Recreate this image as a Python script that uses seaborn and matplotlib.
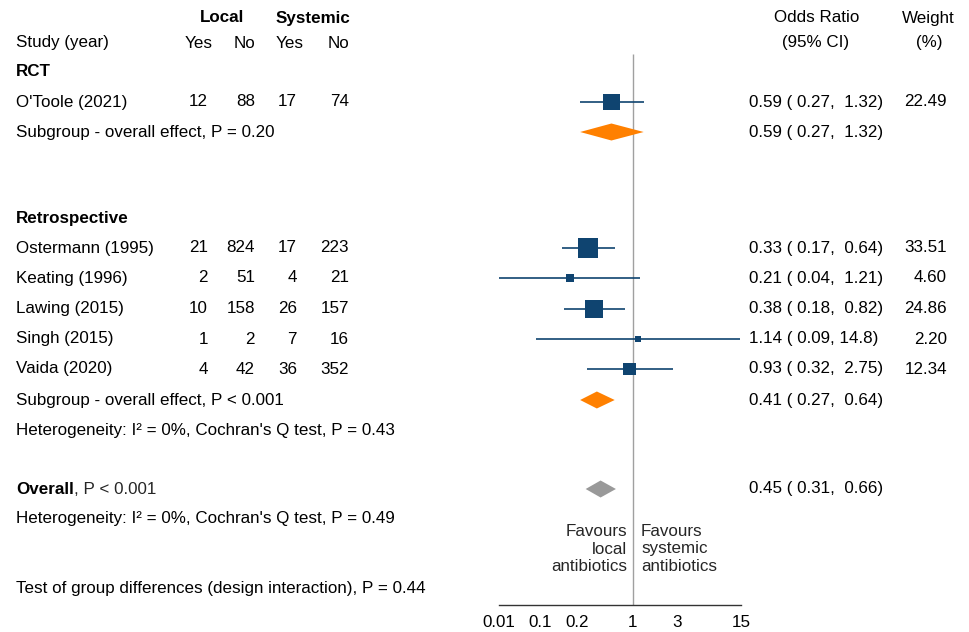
import matplotlib
matplotlib.use("Agg")
import matplotlib.pyplot as plt
import seaborn as sns
import pandas as pd

# ---------------- data ----------------
studies = ["O'Toole (2021)", "Ostermann (1995)", "Keating (1996)",
           "Lawing (2015)", "Singh (2015)", "Vaida (2020)"]
design = ["RCT", "Retrospective", "Retrospective", "Retrospective",
          "Retrospective", "Retrospective"]
local_yes = [12, 21, 2, 10, 1, 4]
local_no = [88, 824, 51, 158, 2, 42]
sys_yes = [17, 17, 4, 26, 7, 36]
sys_no = [74, 223, 21, 157, 16, 352]
odds = [0.59, 0.33, 0.21, 0.38, 1.14, 0.93]
ci_lo = [0.27, 0.17, 0.0356, 0.18, 0.09, 0.32]
ci_hi = [1.32, 0.64, 1.21, 0.82, 14.8, 2.75]
weight = [22.49, 33.51, 4.60, 24.86, 2.20, 12.34]

pooled_names = ["RCT", "Retrospective", "Overall"]
pooled_or = [0.59, 0.41, 0.45]
pooled_lo = [0.27, 0.27, 0.31]
pooled_hi = [1.32, 0.64, 0.66]

tick_values = [0.0356, 0.1, 0.25, 1, 3, 15]
tick_labels = ["0.01", "0.1", "0.2", "1", "3", "15"]

# ---------------- layout (pixel rows) ----------------
W, H = 970, 632
study_rows = [102, 248, 278, 309, 339, 369]
pooled_rows = [132, 400, 489]
NAVY = "#0f4470"
ORANGE = "#ff8000"
GREY = "#999999"
FS = 12.25

sns.set_theme(style="white")
plt.rcParams["font.family"] = ["Liberation Sans", "DejaVu Sans"]

fig = plt.figure(figsize=(W / 100, H / 100), dpi=100)
ax = fig.add_axes([499 / W, 0, 242 / W, 1])
ax.set_xscale("log")
ax.set_xlim(tick_values[0], tick_values[-1])
ax.set_ylim(H, 0)
ax.patch.set_alpha(0)
for s in ["top", "left", "right"]:
    ax.spines[s].set_visible(False)
ax.spines["bottom"].set_position(("data", 605))
ax.spines["bottom"].set_color("#333333")
ax.spines["bottom"].set_linewidth(1.0)
ax.set_xticks(tick_values)
ax.set_xticklabels(tick_labels)
ax.minorticks_off()
ax.tick_params(axis="x", direction="out", length=4, width=1.0, color="#333333",
               pad=3, labelsize=FS, labelcolor="black")
ax.set_yticks([])

# reference line
ax.vlines(1, 54, 605, color="#a0a0a0", lw=1.0, zorder=1)

# CI lines
df = pd.DataFrame({"study": studies, "odds": odds, "lo": ci_lo, "hi": ci_hi,
                   "weight": weight, "y": study_rows})
ax.hlines(df["y"], df["lo"], df["hi"], color=NAVY, lw=1.2, zorder=2, clip_on=False)

wmin, wmax = min(weight), max(weight)
k = 6.4
sns.scatterplot(data=df, x="odds", y="y", size="weight", sizes=(k * wmin + 6, k * wmax),
                size_norm=(wmin, wmax), marker="s", color=NAVY, linewidth=0,
                legend=False, ax=ax, zorder=3, clip_on=False)
ax.set_xlabel("")
ax.set_ylabel("")

# diamonds
dcolors = [ORANGE, ORANGE, GREY]
hh = 8.5
for o, lo, hi, yy, c in zip(pooled_or, pooled_lo, pooled_hi, pooled_rows, dcolors):
    ax.fill([lo, o, hi, o], [yy, yy - hh, yy, yy + hh], color=c, lw=0, zorder=3)


# ---------------- text ----------------
def T(x, y, s, ha="left", bold=False, **kw):
    return fig.text(x / W, 1 - y / H, s, ha=ha, va="center", fontsize=FS,
                    fontweight="bold" if bold else "normal", color="black", **kw)


T(222, 18, "Local", ha="center", bold=True)
T(313, 18, "Systemic", ha="center", bold=True)
T(16, 43, "Study (year)")
for x, s in zip([213, 255, 304, 349], ["Yes", "No", "Yes", "No"]):
    T(x, 43, s, ha="right")
T(817, 18, "Odds Ratio", ha="center")
T(816, 43, "(95% CI)", ha="center")
T(928, 18, "Weight", ha="center")
T(929, 43, "(%)", ha="center")

T(16, 72, "RCT", bold=True)
T(16, 218, "Retrospective", bold=True)


def fmt(v):
    s = f"{v:.2f}"
    if len(s) > 4:
        s = f"{v:.1f}"
    return s if len(s) > 4 or v >= 10 else " " + s


for i, name in enumerate(studies):
    yy = study_rows[i]
    T(16, yy, name)
    for x, v in zip([208, 255, 297, 349], [local_yes[i], local_no[i], sys_yes[i], sys_no[i]]):
        T(x, yy, str(v), ha="right")
    T(749, yy, f"{odds[i]:.2f} ({fmt(ci_lo[i])}, {fmt(ci_hi[i])})")
    T(947, yy, f"{weight[i]:.2f}", ha="right")

for i in range(3):
    T(749, pooled_rows[i], f"{pooled_or[i]:.2f} ({fmt(pooled_lo[i])}, {fmt(pooled_hi[i])})")

T(16, 132, "Subgroup - overall effect, P = 0.20")
T(16, 400, "Subgroup - overall effect, P < 0.001")
T(16, 430, "Heterogeneity: I\u00b2 = 0%, Cochran's Q test, P = 0.43")
t_bold = T(16, 489, "Overall", bold=True)
renderer = fig.canvas.get_renderer()
bb = t_bold.get_window_extent(renderer)
fig.text(bb.x1 / W, 1 - 489 / H, ", P < 0.001", ha="left", va="center", fontsize=FS)
T(16, 519, "Heterogeneity: I\u00b2 = 0%, Cochran's Q test, P = 0.49")
T(16, 588, "Test of group differences (design interaction), P = 0.44")

fig.text(627 / W, 1 - 549 / H, "Favours\nlocal\nantibiotics", ha="right", va="center",
         fontsize=FS, linespacing=1.22, multialignment="right")
fig.text(641 / W, 1 - 549 / H, "Favours\nsystemic\nantibiotics", ha="left", va="center",
         fontsize=FS, linespacing=1.22, multialignment="left")

fig.savefig("out.png", dpi=100)
